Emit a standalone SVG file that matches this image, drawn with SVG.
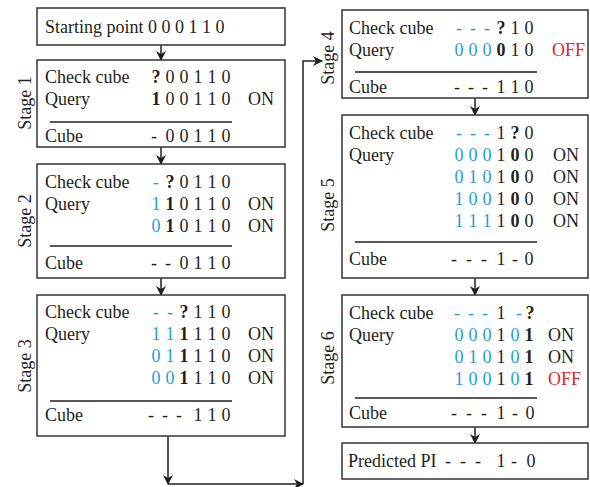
<svg xmlns="http://www.w3.org/2000/svg" width="590" height="487" viewBox="0 0 590 487">
<defs>
<marker id="ah" markerWidth="10" markerHeight="10" refX="9" refY="5" orient="auto" markerUnits="userSpaceOnUse">
<path d="M0,0 L10,5 L0,10 L3,5 Z" fill="#231f20"/>
</marker>
<style>
text{font-family:"Liberation Serif","Times New Roman",serif;font-size:18px;fill:#231f20}
.d{text-anchor:middle}
.b{font-weight:bold}
.c{fill:#1fa0da}
.r{fill:#e0262c}
.box{fill:#fff;stroke:#333;stroke-width:1.5}
.sep{stroke:#231f20;stroke-width:1.5}
.con{fill:none;stroke:#231f20;stroke-width:1.5}
</style>
</defs>
<rect width="590" height="487" fill="#fff"/>

<g id="connectors">
<line class="con" x1="161" y1="45" x2="161" y2="60" marker-end="url(#ah)"/>
<line class="con" x1="161" y1="147" x2="161" y2="164" marker-end="url(#ah)"/>
<line class="con" x1="161" y1="278" x2="161" y2="295" marker-end="url(#ah)"/>
<line class="con" x1="168" y1="436" x2="168" y2="484" marker-end="url(#ah)"/>
<line class="con" x1="168" y1="484" x2="303" y2="484" marker-end="url(#ah)"/>
<polyline class="con" points="303,484 303,61 322,61" marker-end="url(#ah)"/>
<line class="con" x1="475" y1="98" x2="475" y2="115" marker-end="url(#ah)"/>
<line class="con" x1="475" y1="278" x2="475" y2="295" marker-end="url(#ah)"/>
<line class="con" x1="475" y1="427" x2="475" y2="443" marker-end="url(#ah)"/>
</g>

<g id="start">
<rect class="box" x="37" y="8" width="248" height="37"/>
<text x="45" y="33">Starting point 0 0 0 1 1 0</text>
</g>

<g id="stage1">
<rect class="box" x="37" y="60" width="248" height="87"/>
<text class="d" transform="translate(31,103) rotate(-90)">Stage 1</text>
<text x="45" y="83">Check cube</text>
<text class="d" x="156 170 184 198 212 226" y="83"><tspan class="b">?</tspan>00110</text>
<text x="45" y="105">Query</text>
<text class="d" x="156 170 184 198 212 226" y="105"><tspan class="b">1</tspan>00110</text>
<text x="248" y="105">ON</text>
<line class="sep" x1="50" y1="122" x2="232" y2="122"/>
<text x="45" y="142">Cube</text>
<text class="d" x="154 170 184 198 212 226" y="142">-00110</text>
</g>

<g id="stage2">
<rect class="box" x="37" y="164" width="248" height="114"/>
<text class="d" transform="translate(31,221) rotate(-90)">Stage 2</text>
<text x="45" y="188">Check cube</text>
<text class="d" x="156 170 184 198 212 226" y="188"><tspan class="c">-</tspan><tspan class="b">?</tspan>0110</text>
<text x="45" y="210">Query</text>
<text class="d" x="156 170 184 198 212 226" y="210"><tspan class="c">1</tspan><tspan class="b">1</tspan>0110</text>
<text x="248" y="210">ON</text>
<text class="d" x="156 170 184 198 212 226" y="232"><tspan class="c">0</tspan><tspan class="b">1</tspan>0110</text>
<text x="248" y="232">ON</text>
<line class="sep" x1="50" y1="246" x2="232" y2="246"/>
<text x="45" y="269">Cube</text>
<text class="d" x="154 168 184 198 212 226" y="269">--0110</text>
</g>

<g id="stage3">
<rect class="box" x="37" y="295" width="248" height="141"/>
<text class="d" transform="translate(31,366) rotate(-90)">Stage 3</text>
<text x="45" y="318">Check cube</text>
<text class="d" x="156 170 184 198 212 226" y="318"><tspan class="c">--</tspan><tspan class="b">?</tspan>110</text>
<text x="45" y="340">Query</text>
<text class="d" x="156 170 184 198 212 226" y="340"><tspan class="c">11</tspan><tspan class="b">1</tspan>110</text>
<text x="248" y="340">ON</text>
<text class="d" x="156 170 184 198 212 226" y="362"><tspan class="c">01</tspan><tspan class="b">1</tspan>110</text>
<text x="248" y="362">ON</text>
<text class="d" x="156 170 184 198 212 226" y="384"><tspan class="c">00</tspan><tspan class="b">1</tspan>110</text>
<text x="248" y="384">ON</text>
<line class="sep" x1="50" y1="401" x2="232" y2="401"/>
<text x="45" y="421">Cube</text>
<text class="d" x="151 165 179 198 212 226" y="421">---110</text>
</g>

<g id="stage4">
<rect class="box" x="342" y="10" width="246" height="88"/>
<text class="d" transform="translate(334,58) rotate(-90)">Stage 4</text>
<text x="349" y="34">Check cube</text>
<text class="d" x="459 473 487 501 515 529" y="34"><tspan class="c">---</tspan><tspan class="b">?</tspan>10</text>
<text x="349" y="56">Query</text>
<text class="d" x="459 473 487 501 515 529" y="56"><tspan class="c">000</tspan><tspan class="b">0</tspan>10</text>
<text class="r" x="552" y="56">OFF</text>
<line class="sep" x1="355" y1="72" x2="537" y2="72"/>
<text x="349" y="93">Cube</text>
<text class="d" x="457 471 485 501 515 529" y="93">---110</text>
</g>

<g id="stage5">
<rect class="box" x="342" y="115" width="246" height="163"/>
<text class="d" transform="translate(334,205) rotate(-90)">Stage 5</text>
<text x="349" y="139">Check cube</text>
<text class="d" x="459 473 487 501 515 529" y="139"><tspan class="c">---</tspan>1<tspan class="b">?</tspan>0</text>
<text x="349" y="161">Query</text>
<text class="d" x="459 473 487 501 515 529" y="161"><tspan class="c">000</tspan>1<tspan class="b">0</tspan>0</text>
<text x="553" y="161">ON</text>
<text class="d" x="459 473 487 501 515 529" y="183"><tspan class="c">010</tspan>1<tspan class="b">0</tspan>0</text>
<text x="553" y="183">ON</text>
<text class="d" x="459 473 487 501 515 529" y="205"><tspan class="c">100</tspan>1<tspan class="b">0</tspan>0</text>
<text x="553" y="205">ON</text>
<text class="d" x="459 473 487 501 515 529" y="227"><tspan class="c">111</tspan>1<tspan class="b">0</tspan>0</text>
<text x="553" y="227">ON</text>
<line class="sep" x1="355" y1="242" x2="537" y2="242"/>
<text x="349" y="265">Cube</text>
<text class="d" x="454 469 484 501 515 529" y="265">---1-0</text>
</g>

<g id="stage6">
<rect class="box" x="342" y="295" width="246" height="132"/>
<text class="d" transform="translate(334,358) rotate(-90)">Stage 6</text>
<text x="349" y="319">Check cube</text>
<text class="d" x="457 471 485 501 519 530" y="319"><tspan class="c">---</tspan>1<tspan class="c">-</tspan><tspan class="b">?</tspan></text>
<text x="349" y="341">Query</text>
<text class="d" x="459 473 487 501 515 529" y="341"><tspan class="c">000</tspan>1<tspan class="c">0</tspan><tspan class="b">1</tspan></text>
<text x="548" y="341">ON</text>
<text class="d" x="459 473 487 501 515 529" y="363"><tspan class="c">010</tspan>1<tspan class="c">0</tspan><tspan class="b">1</tspan></text>
<text x="548" y="363">ON</text>
<text class="d" x="459 473 487 501 515 529" y="385"><tspan class="c">100</tspan>1<tspan class="c">0</tspan><tspan class="b">1</tspan></text>
<text class="r" x="548" y="385">OFF</text>
<line class="sep" x1="355" y1="398" x2="537" y2="398"/>
<text x="349" y="419">Cube</text>
<text class="d" x="454 469 484 501 515 530" y="419">---1-0</text>
</g>

<g id="predicted">
<rect class="box" x="342" y="443" width="246" height="36"/>
<text x="348" y="467">Predicted PI</text>
<text class="d" x="448 463 478 501 514 531" y="467">---1-0</text>
</g>
</svg>
